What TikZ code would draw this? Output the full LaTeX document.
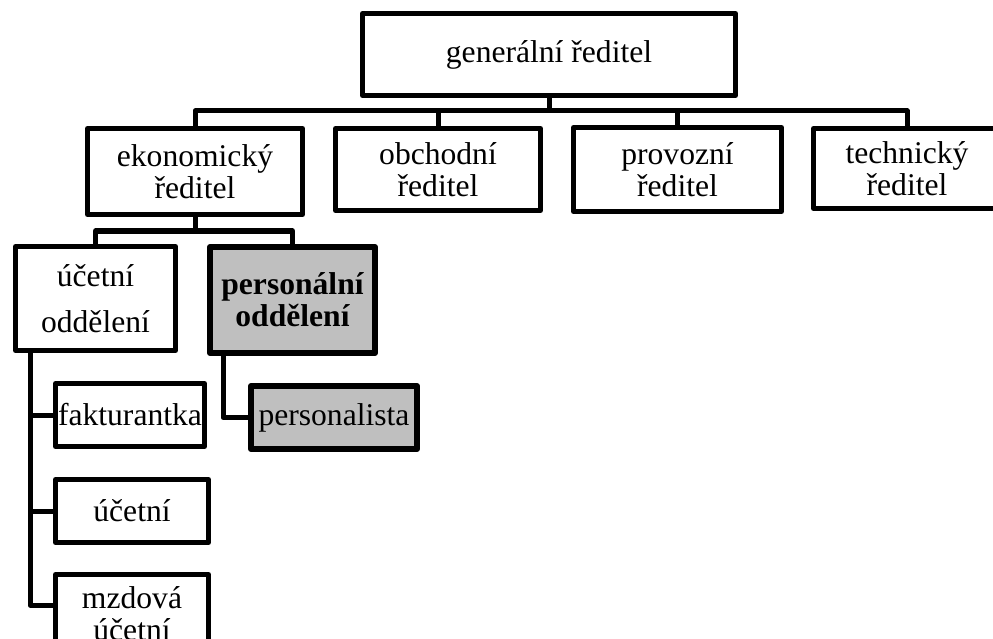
\documentclass[tikz,border=0pt]{standalone}
\usepackage{fontspec}
\setmainfont{Liberation Serif}
\begin{document}
\begin{tikzpicture}[x=1pt,y=-1pt,
  box/.style={draw=black, line width=5pt, line join=round, fill=white,
    inner sep=0pt, outer sep=0pt, align=center,
    font=\fontsize{31.6pt}{32pt}\selectfont},
  hilite/.style={box, line width=6pt, fill=black!25},
  conn/.style={draw=black, line width=5pt, line join=round}]
\useasboundingbox (0,0) rectangle (993,639);

% top management
\node[box, minimum width=373pt, minimum height=82pt] (gr) at (549,54.5) {generální ředitel};
\node[box, minimum width=215pt, minimum height=86pt] (ekon) at (195,171.5) {ekonomický\\ředitel};
\node[box, minimum width=205pt, minimum height=82pt] (obch) at (438,169.5) {obchodní\\ředitel};
\node[box, minimum width=208pt, minimum height=84pt] (prov) at (677.5,169.5) {provozní\\ředitel};
\node[box, minimum width=187pt, minimum height=80pt] (tech) at (907,168.5) {technický\\ředitel};

% departments
\node[box, minimum width=160pt, minimum height=104pt] (uo) at (95.5,298.5) {účetní\\[14pt]oddělení};
\node[hilite, minimum width=165pt, minimum height=106pt] (po) at (292.5,300) {\bfseries personální\\\bfseries oddělení};

% staff
\node[box, minimum width=149pt, minimum height=63pt] (fakt) at (130,415) {fakturantka};
\node[box, minimum width=153pt, minimum height=63pt] (uc) at (132,511) {účetní};
\node[box, minimum width=153pt, minimum height=78pt] (mzd) at (132,613.5) {mzdová\\účetní};
\node[hilite, minimum width=166pt, minimum height=63pt] (persta) at (334,417.5) {personalista};

% connector rails
\coordinate (busA) at (0,111);
\coordinate (busB) at (0,231);
\coordinate (spineA) at (30,0);
\coordinate (spineB) at (223,0);

% general director to directors
\draw[conn] (gr.south) -- (gr.south |- busA);
\draw[conn] (ekon.north) -- (ekon.north |- busA) -- (tech.north |- busA) -- (tech.north);
\draw[conn] (obch.north) -- (obch.north |- busA);
\draw[conn] (prov.north) -- (prov.north |- busA);

% economic director to departments
\draw[conn] (ekon.south) -- (ekon.south |- busB);
\draw[conn] (uo.north) -- (uo.north |- busB) -- (po.north |- busB) -- (po.north);

% accounting department staff
\coordinate (mzdjoin) at ([yshift=8.5pt]mzd.west);
\draw[conn] (uo.south -| spineA) -- (spineA |- mzdjoin) -- (mzdjoin);
\draw[conn] (spineA |- fakt.west) -- (fakt.west);
\draw[conn] (spineA |- uc.west) -- (uc.west);

% personnel department staff
\draw[conn] (po.south -| spineB) |- (persta.west);
\end{tikzpicture}
\end{document}
